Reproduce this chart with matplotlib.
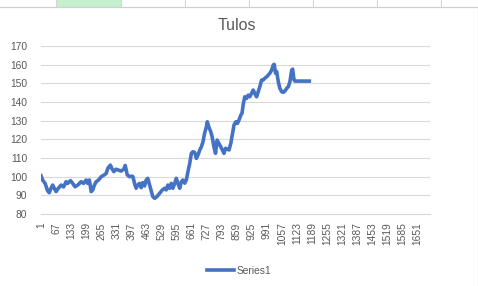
import numpy as np
import matplotlib
matplotlib.use("Agg")
import matplotlib.pyplot as plt
from matplotlib.patches import Rectangle
from matplotlib.lines import Line2D

plt.rcParams['font.family'] = ['Liberation Sans', 'DejaVu Sans']

# values (category index, value)
idx = [1, 8, 19, 30, 37, 45, 52, 59, 67, 77, 89, 100, 111, 118, 130, 140, 150, 162,
       177, 188, 199, 206, 213, 221, 228, 235, 243, 253, 265, 279, 287, 294, 305, 311,
       320, 330, 341, 352, 364, 370, 379, 389, 399, 404, 411, 418, 425, 433, 440, 447,
       455, 462, 469, 477, 484, 491, 499, 509, 521, 533, 543, 550, 557, 565, 572, 579,
       587, 594, 601, 609, 616, 623, 631, 638, 645, 653, 660, 667, 675, 682, 689, 697,
       704, 711, 718, 726, 730, 736, 745, 751, 759, 766, 773, 780, 789, 796, 803, 810,
       818, 825, 833, 838, 847, 855, 862, 869, 877, 882, 887, 894, 902, 909, 916, 924,
       931, 938, 946, 953, 960, 968, 975, 982, 990, 997, 1004, 1012, 1019, 1023, 1029,
       1034, 1041, 1048, 1056, 1063, 1070, 1078, 1085, 1092, 1100, 1104, 1110, 1114, 1177]
vals = [100.5, 98.2, 96.4, 92.5, 91.4, 93.8, 95.5, 93.8, 92.0, 93.8, 95.5, 94.5, 97.3,
        96.4, 97.9, 96.4, 94.6, 95.5, 97.3, 96.4, 98.2, 96.4, 98.2, 92.0, 92.9, 95.5,
        97.3, 98.2, 100.0, 101.0, 101.8, 104.5, 106.2, 104.5, 102.7, 104.0, 103.5, 103.0,
        104.0, 106.0, 101.0, 100.0, 100.3, 100.0, 96.4, 93.8, 95.5, 96.4, 94.1, 96.8,
        95.0, 98.2, 99.1, 95.5, 92.2, 89.3, 88.4, 89.3, 91.1, 92.9, 93.8, 92.9, 95.5,
        93.8, 96.4, 93.8, 96.4, 99.1, 96.4, 93.8, 97.3, 98.2, 96.5, 98.2, 102.7, 107.2,
        112.5, 113.4, 112.9, 109.8, 111.6, 114.3, 116.0, 118.7, 123.2, 126.8, 129.4,
        126.8, 124.1, 121.4, 116.0, 112.5, 119.6, 117.9, 116.0, 114.3, 112.5, 115.2,
        114.7, 114.3, 117.9, 121.4, 127.7, 129.4, 128.5, 130.4, 133.0, 134.0, 138.4,
        142.8, 141.9, 143.7, 142.8, 144.6, 146.4, 144.6, 142.8, 145.5, 148.2, 151.8,
        151.8, 152.7, 153.5, 154.4, 155.4, 157.1, 159.8, 160.2, 155.4, 156.3, 150.9,
        147.3, 145.5, 145.2, 145.9, 147.3, 148.2, 150.9, 157.1, 157.6, 151.8, 151.2,
        151.2]

n_categories = 1706
tick_labels = np.arange(1, n_categories + 1, 66)
y_ticks = np.arange(80, 171, 10)

W, H = 478, 286
fig = plt.figure(figsize=(W / 100, H / 100), dpi=100)

# spreadsheet strip above the chart, and the chart frame
fig.patches.append(Rectangle((56 / W, 1 - 7 / H), 65 / W, 7 / H, transform=fig.transFigure,
                             facecolor="#C6EFCE", edgecolor="none", zorder=-3))
for gx in [56, 121, 185, 249, 313, 377, 441]:
    fig.add_artist(Line2D([gx / W, gx / W], [1 - 7 / H, 1], transform=fig.transFigure,
                          color="#D4D4D4", lw=0.8, zorder=-2))
fig.patches.append(Rectangle((-2 / W, -2 / H), 479.5 / W, (H - 5) / H, transform=fig.transFigure,
                             facecolor="white", edgecolor="#D0D0D0", lw=0.9, zorder=-1))

ax = fig.add_axes([41 / W, 1 - 214 / H, 389 / W, 168 / H])
ax.set_facecolor("none")
ax.plot(idx, vals, color="#4472C4", lw=2.6, solid_joinstyle="round", zorder=3)

ax.set_xlim(1, n_categories)
ax.set_ylim(80, 170)
ax.set_yticks(y_ticks)
ax.set_xticks(tick_labels)
ax.set_xticklabels([str(t) for t in tick_labels], rotation=90)
ax.tick_params(axis="both", length=0, labelsize=7.4, colors="#595959")
ax.tick_params(axis="y", pad=10)
ax.tick_params(axis="x", pad=6)
ax.grid(axis="y", color="#D9D9D9", lw=0.8)
ax.set_axisbelow(True)
for s in ["top", "right", "left"]:
    ax.spines[s].set_visible(False)
ax.spines["bottom"].set_color("#D9D9D9")
ax.spines["bottom"].set_linewidth(0.8)

fig.text(237 / W, 1 - 25 / H, "Tulos", ha="center", va="center", fontsize=11.5, color="#595959")

handle = Line2D([], [], color="#4472C4", lw=2.6)
fig.legend([handle], ["Series1"], loc="center", bbox_to_anchor=(239 / W, 1 - 271 / H),
           frameon=False, fontsize=7.4, handlelength=2.6, handletextpad=0.25,
           labelcolor="#595959")

fig.savefig("out.png", dpi=100)
